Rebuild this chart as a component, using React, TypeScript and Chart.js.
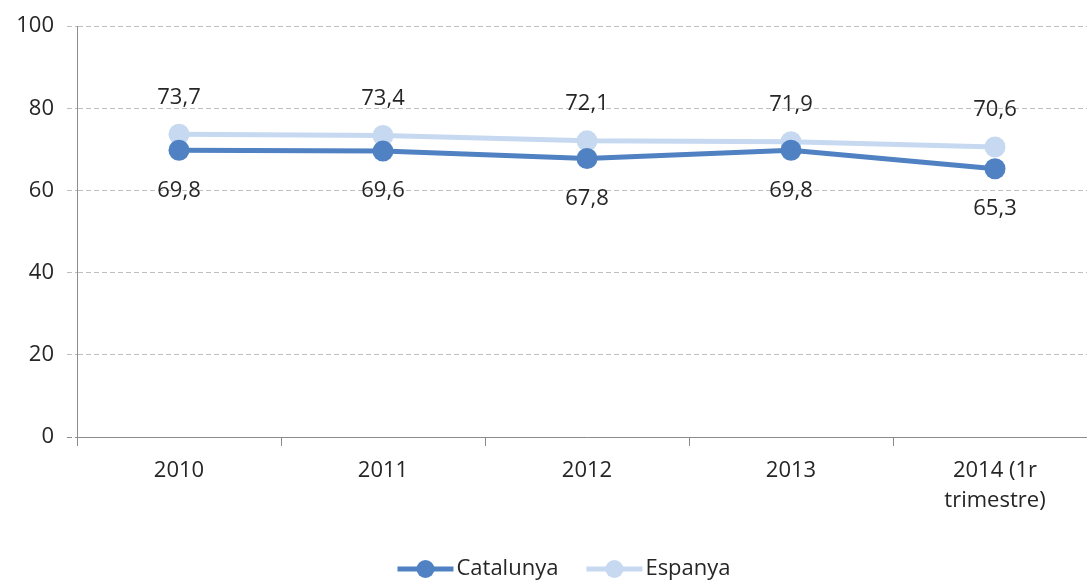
import React, { useEffect, useRef } from "react";
import { Chart, registerables } from "chart.js";

Chart.register(...registerables);

const categories: (string | string[])[] = ["2010", "2011", "2012", "2013", ["2014 (1r", "trimestre)"]];
const catalunya = [69.8, 69.6, 67.8, 69.8, 65.3];
const espanya = [73.7, 73.4, 72.1, 71.9, 70.6];
const seriesNames = ["Catalunya", "Espanya"];
const yTicks = [0, 20, 40, 60, 80, 100];

const C_DARK = "#4f81c3";
const C_LIGHT = "#c6d9f1";
const TEXT = "#262626";
const AXIS = "#8c8c8c";
const GRID = "#bfbfbf";
const FONT = "'Open Sans', Lato, sans-serif";
const FS = 22;

const fmt = (v: number) => v.toFixed(1).replace(".", ",");

const labelPlugin = {
  id: "valueLabels",
  afterDatasetsDraw(chart: any) {
    const ctx = chart.ctx;
    ctx.save();
    ctx.font = `${FS}px ${FONT}`;
    ctx.fillStyle = TEXT;
    ctx.textAlign = "center";
    ctx.textBaseline = "middle";
    chart.data.datasets.forEach((ds: any, i: number) => {
      const meta = chart.getDatasetMeta(i);
      meta.data.forEach((el: any, j: number) => {
        const off = i === 0 ? 40 : -37;
        ctx.fillText(fmt(ds.data[j]), el.x, el.y + off);
      });
    });
    ctx.restore();
  },
};

const legendPlugin = {
  id: "customLegend",
  afterDraw(chart: any) {
    const ctx = chart.ctx;
    ctx.save();
    ctx.font = `${FS}px ${FONT}`;
    ctx.textBaseline = "middle";
    const y = 569;
    const lineW = 56;
    const gapText = 3;
    const gapItem = 28;
    const colors = [C_DARK, C_LIGHT];
    const widths = seriesNames.map((n) => lineW + gapText + ctx.measureText(n).width);
    const total = widths.reduce((a, b) => a + b, 0) + gapItem;
    let x = 564 - total / 2;
    seriesNames.forEach((n, i) => {
      ctx.strokeStyle = colors[i];
      ctx.lineWidth = 5;
      ctx.beginPath();
      ctx.moveTo(x, y);
      ctx.lineTo(x + lineW, y);
      ctx.stroke();
      ctx.fillStyle = colors[i];
      ctx.beginPath();
      ctx.arc(x + lineW / 2, y, 9, 0, Math.PI * 2);
      ctx.fill();
      ctx.fillStyle = TEXT;
      ctx.textAlign = "left";
      ctx.fillText(n, x + lineW + gapText, y);
      x += widths[i] + gapItem;
    });
    ctx.restore();
  },
};

export default function App() {
  const ref = useRef<HTMLCanvasElement>(null);
  useEffect(() => {
    if (!ref.current) return;
    const chart = new Chart(ref.current, {
      type: "line",
      data: {
        labels: categories as any,
        datasets: [
          {
            label: seriesNames[0],
            data: catalunya,
            borderColor: C_DARK,
            backgroundColor: C_DARK,
            pointBackgroundColor: C_DARK,
            pointBorderColor: C_DARK,
            borderWidth: 5,
            pointRadius: 10.5,
            pointBorderWidth: 0,
            tension: 0,
          },
          {
            label: seriesNames[1],
            data: espanya,
            borderColor: C_LIGHT,
            backgroundColor: C_LIGHT,
            pointBackgroundColor: C_LIGHT,
            pointBorderColor: C_LIGHT,
            borderWidth: 5,
            pointRadius: 10.5,
            pointBorderWidth: 0,
            tension: 0,
          },
        ],
      },
      options: {
        responsive: false,
        animation: false,
        events: [],
        layout: { padding: { top: 26, right: 13, bottom: 0, left: 0 } },
        plugins: {
          legend: { display: false },
          tooltip: { enabled: false },
          title: { display: false },
        },
        scales: {
          x: {
            type: "category",
            offset: true,
            afterFit: (s: any) => {
              s.height = 144;
            },
            grid: {
              offset: true,
              drawOnChartArea: false,
              drawTicks: true,
              tickLength: 9,
              color: AXIS,
              tickColor: AXIS,
              lineWidth: 1,
            },
            border: { display: true, color: AXIS, width: 1 },
            ticks: {
              color: TEXT,
              font: { family: FONT, size: FS, lineHeight: 1.4 },
              padding: 9,
              maxRotation: 0,
              autoSkip: false,
            },
          },
          y: {
            min: 0,
            max: 100,
            afterFit: (s: any) => {
              s.width = 77;
            },
            afterBuildTicks: (s: any) => {
              s.ticks = yTicks.map((v) => ({ value: v }));
            },
            grid: {
              color: (c: any) => (c.tick && c.tick.value === 0 ? "rgba(0,0,0,0)" : GRID),
              tickColor: (c: any) => (c.tick && c.tick.value === 0 ? AXIS : GRID),
              tickBorderDash: [5, 3],
              tickLength: 10,
              lineWidth: 1,
            },
            border: { display: true, color: AXIS, width: 1, dash: [5, 3] },
            ticks: {
              color: TEXT,
              font: { family: FONT, size: FS },
              padding: 13,
            },
          },
        },
      } as any,
      plugins: [labelPlugin, legendPlugin],
    });
    return () => chart.destroy();
  }, []);
  return (
    <div
      style={{
        position: "fixed",
        left: 0,
        top: 0,
        width: 1087,
        height: 581,
        overflow: "hidden",
        background: "#fff",
      }}
    >
      <canvas ref={ref} width={1110} height={581} style={{ display: "block", width: 1110, height: 581 }} />
    </div>
  );
}
